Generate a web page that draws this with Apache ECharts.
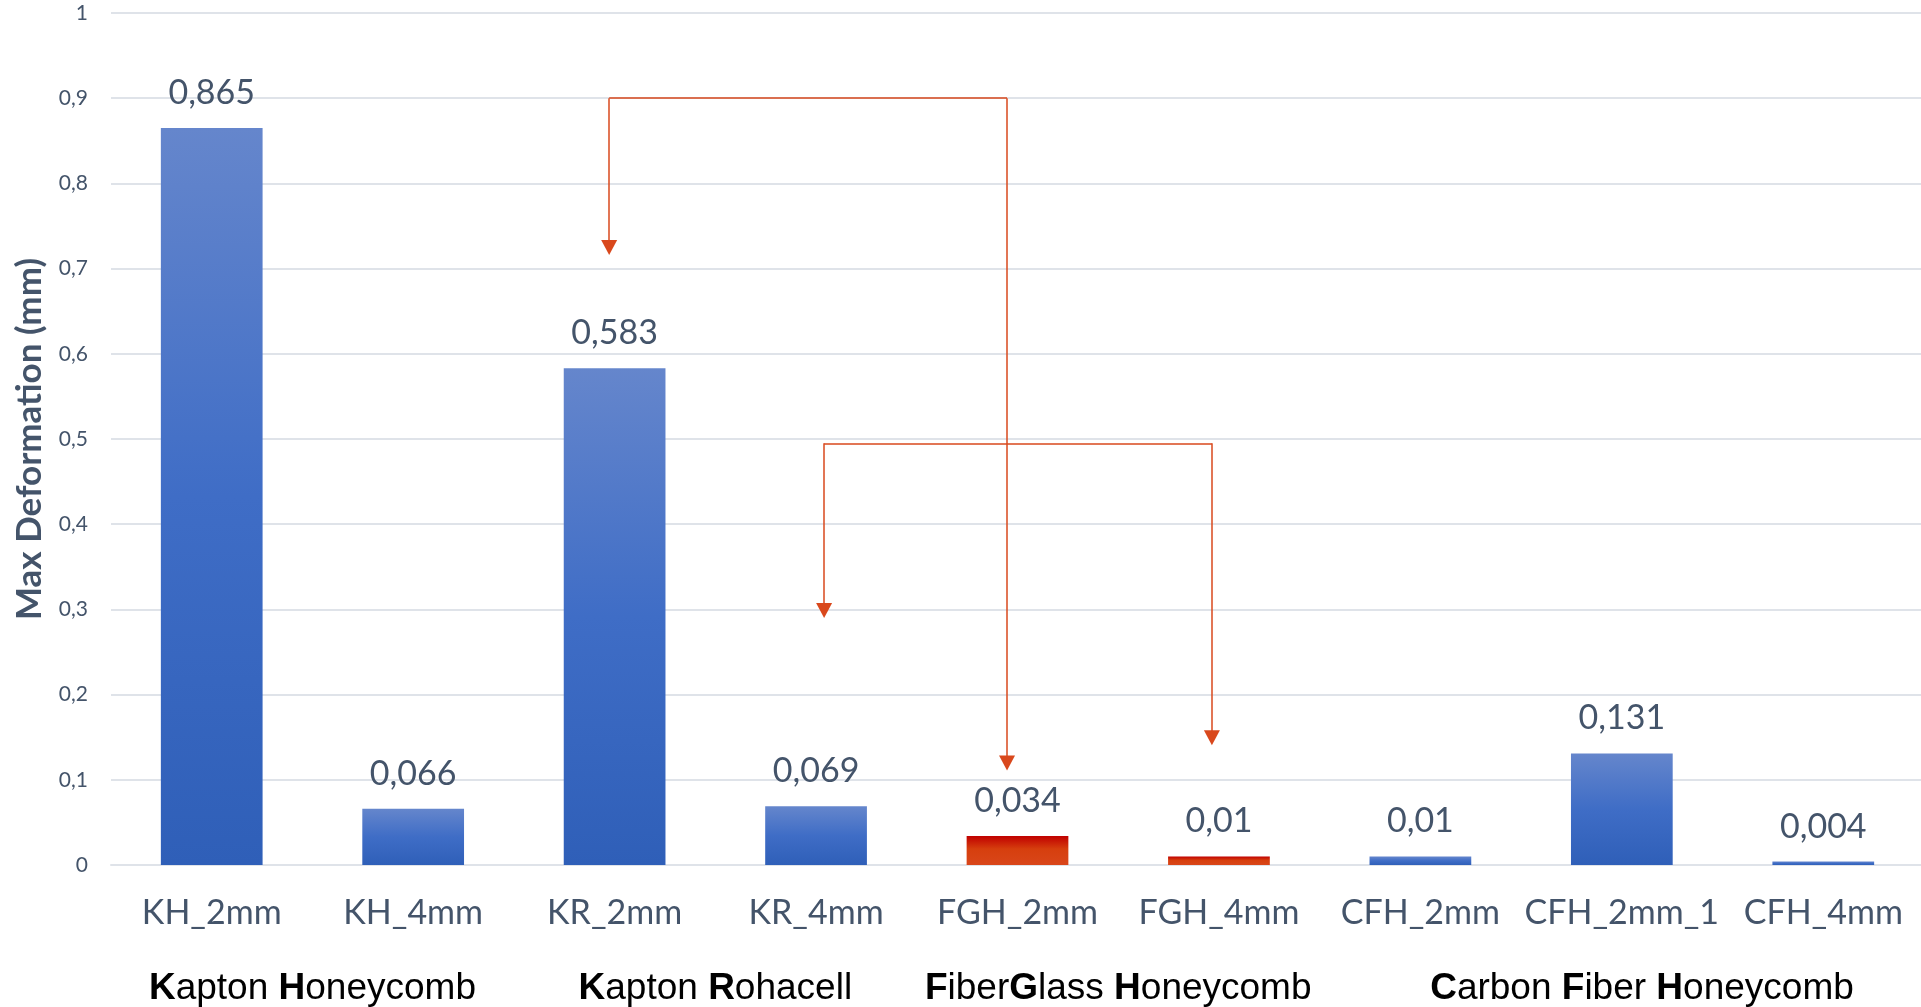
<!DOCTYPE html>
<html><head><meta charset="utf-8">
<script src="https://cdn.jsdelivr.net/npm/echarts@6/dist/echarts.min.js"></script>
<style>html,body{margin:0;padding:0;background:#fff}#c{width:1921px;height:1007px}</style>
</head><body><div id="c"></div>
<script>
// ---- data ----
const categories = ['KH_2mm','KH_4mm','KR_2mm','KR_4mm','FGH_2mm','FGH_4mm','CFH_2mm','CFH_2mm_1','CFH_4mm'];
const values = [0.865, 0.066, 0.583, 0.069, 0.034, 0.01, 0.01, 0.131, 0.004];
const highlighted = [false, false, false, false, true, true, false, false, false];
const yMin = 0, yMax = 1, yStep = 0.1;
const yTitle = 'Max Deformation (mm)';
const groupLabels = ['{b|K}apton {b|H}oneycomb', '{b|K}apton {b|R}ohacell', '{b|F}iber{b|G}lass {b|H}oneycomb', '{b|C}arbon {b|F}iber {b|H}oneycomb'];
const groupCenters = [0.5, 2.5, 4.5, 7.1];
// arrows: [xFrom, xTo, yTop, yTipFrom, yTipTo] in category-index / value units
const arrowA = [1.973, 3.948, 0.9, 0.716, 0.111];
const arrowB = [3.04, 4.965, 0.495, 0.29, 0.1406];

const FONT = 'Lato';
const LABEL_COLOR = '#44546a';
const ARROW_COLOR = '#d9481c';
const comma = v => String(v).replace('.', ',');

const blueGrad = new echarts.graphic.LinearGradient(0, 0, 0, 1, [
  {offset: 0, color: '#6586cc'}, {offset: 0.5, color: '#3f6dc6'}, {offset: 1, color: '#2f5fb8'}]);
const redGrad = new echarts.graphic.LinearGradient(0, 0, 0, 1, [
  {offset: 0, color: '#c00000'}, {offset: 0.45, color: '#d63f0e'}, {offset: 1, color: '#d9461a'}]);

const ARROW_H = 15; // px height of arrowhead
const chart = echarts.init(document.getElementById('c'));

function arrowLines(a, tipOffset) {
  const [x0, x1, yt, t0, t1] = a;
  return [
    [{coord: [x0, yt], symbol: 'none'}, {coord: [x1, yt], symbol: 'none'}],
    [{coord: [x0, yt], symbol: 'none'}, {coord: [x0, t0 + tipOffset], symbol: 'triangle'}],
    [{coord: [x1, yt], symbol: 'none'}, {coord: [x1, t1 + tipOffset], symbol: 'triangle'}]
  ];
}
const pxPerUnit = 852 / (yMax - yMin);
const tipOff = (ARROW_H / 2) / pxPerUnit;

const option = {
  animation: false,
  backgroundColor: '#ffffff',
  grid: {left: 111, top: 13, width: 1813, bottom: 142, containLabel: false, outerBoundsMode: 'none'},
  xAxis: [{
    type: 'category', data: categories,
    axisLine: {show: true, lineStyle: {color: '#dfe3e9', width: 2}},
    axisTick: {show: false},
    axisLabel: {color: LABEL_COLOR, fontFamily: FONT, fontSize: 34, margin: 31, interval: 0}
  }, {
    type: 'value', min: -0.5, max: 8.5, show: false
  }],
  yAxis: {
    type: 'value', min: yMin, max: yMax, interval: yStep,
    name: yTitle, nameLocation: 'middle', nameRotate: 90, nameGap: 64,
    nameTextStyle: {color: LABEL_COLOR, fontFamily: FONT, fontWeight: 'bold', fontSize: 35},
    axisLine: {show: false}, axisTick: {show: false},
    axisLabel: {color: LABEL_COLOR, fontFamily: FONT, fontSize: 21, margin: 23,
      formatter: v => comma(+v.toFixed(1))},
    splitLine: {lineStyle: {color: '#dfe3e9', width: 2}}
  },
  series: [{
    type: 'bar',
    barWidth: '50.5%',
    data: values.map((v, i) => ({value: v, itemStyle: {color: highlighted[i] ? redGrad : blueGrad}})),
    label: {show: true, position: 'top', distance: 18, color: LABEL_COLOR, fontFamily: FONT, fontSize: 34,
      formatter: p => comma(p.value)},
    emphasis: {disabled: true}
  }, {
    type: 'line', xAxisIndex: 1, yAxisIndex: 0, data: [], silent: true,
    markLine: {
      silent: true, animation: false,
      symbolSize: [16, ARROW_H],
      label: {show: false},
      lineStyle: {color: ARROW_COLOR, width: 1.5, type: 'solid'},
      itemStyle: {color: ARROW_COLOR},
      emphasis: {disabled: true},
      data: arrowLines(arrowA, tipOff).concat(arrowLines(arrowB, tipOff))
    }
  }]
};
chart.setOption(option);

const groupY = chart.convertToPixel({yAxisIndex: 0}, 0) + 124;
chart.setOption({
  graphic: groupLabels.map((t, i) => ({
    type: 'text',
    x: chart.convertToPixel({xAxisIndex: 1}, groupCenters[i]),
    y: groupY,
    style: {
      text: t, fill: '#000', fontFamily: 'Liberation Sans, Arial, sans-serif', fontSize: 37,
      align: 'center', verticalAlign: 'middle',
      rich: {b: {fontWeight: 'bold', fontFamily: 'Liberation Sans, Arial, sans-serif', fontSize: 37, fill: '#000'}}
    }
  }))
});
</script></body></html>
